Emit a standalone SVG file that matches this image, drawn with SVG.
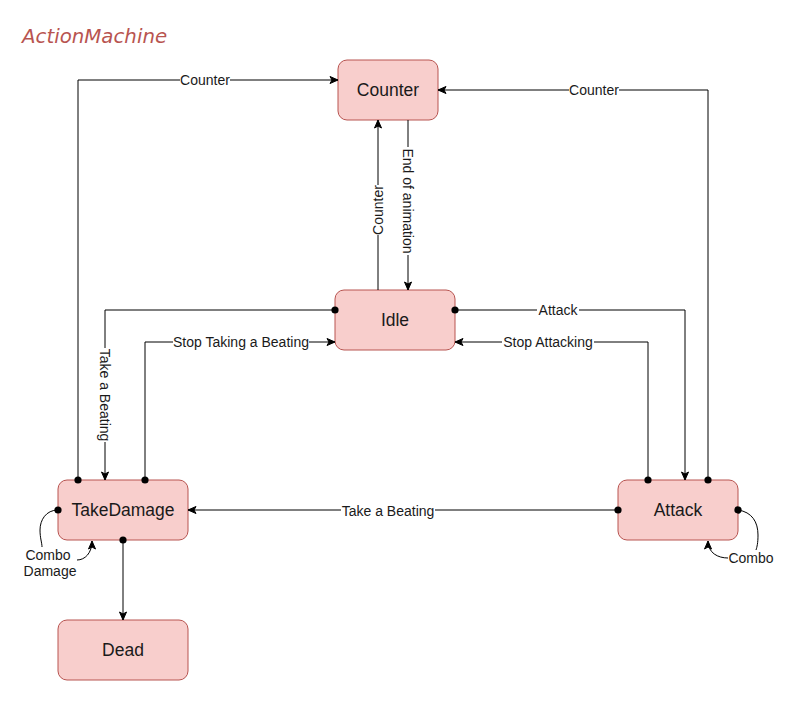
<svg xmlns="http://www.w3.org/2000/svg" width="795" height="701" viewBox="0 0 795 701">
<defs>
<marker id="arr" markerUnits="userSpaceOnUse" markerWidth="10" markerHeight="10" viewBox="0 0 10 10" refX="9" refY="5" orient="auto">
<path d="M1,1.5 L9,5 L1,8.5 L3,5 z" fill="#000" stroke="#000" stroke-width="1"/>
</marker>
<marker id="dot" markerUnits="userSpaceOnUse" markerWidth="8" markerHeight="8" viewBox="0 0 8 8" refX="4" refY="4" orient="auto">
<circle cx="4" cy="4" r="3.6" fill="#000"/>
</marker>
</defs>
<style>
.node rect{fill:#f8cecc;stroke:#b85450;stroke-width:1}
.node text{font-family:"Liberation Sans",Arial,sans-serif;font-size:17.5px;fill:#1a1a1a;text-anchor:middle;dominant-baseline:central}
.edge{fill:none;stroke:#000;stroke-width:1;marker-start:url(#dot);marker-end:url(#arr)}
.lbl{font-family:"Liberation Sans",Arial,sans-serif;font-size:14px;fill:#1a1a1a;text-anchor:middle;dominant-baseline:central}
.bg{fill:#fff}
</style>
<rect width="795" height="701" fill="#fff"/>
<text x="22" y="43" font-family="'DejaVu Sans',Verdana,sans-serif" font-style="italic" font-size="19.8" fill="#b85450">ActionMachine</text>
<g id="node-counter" class="node"><rect x="338" y="60" width="100" height="60" rx="9"/><text x="388" y="90">Counter</text></g>
<g id="node-idle" class="node"><rect x="335" y="290" width="120" height="60" rx="9"/><text x="395" y="320">Idle</text></g>
<g id="node-takedamage" class="node"><rect x="58" y="480" width="130" height="60" rx="9"/><text x="123" y="510">TakeDamage</text></g>
<g id="node-attack" class="node"><rect x="618" y="480" width="120" height="60" rx="9"/><text x="678" y="510">Attack</text></g>
<g id="node-dead" class="node"><rect x="58" y="620" width="130" height="60" rx="9"/><text x="123" y="650">Dead</text></g>
<g id="connectors">
<path class="edge" d="M78,480 V80 H338"/>
<path class="edge" d="M708,480 V90 H438"/>
<path class="edge" style="marker-start:none" d="M378,290 V120"/>
<path class="edge" style="marker-start:none" d="M408,120 V290"/>
<path class="edge" d="M335,310 H105 V480"/>
<path class="edge" d="M145,480 V342 H335"/>
<path class="edge" d="M455,310 H685 V480"/>
<path class="edge" d="M648,480 V342 H455"/>
<path class="edge" d="M618,510 H188"/>
<path class="edge" d="M123,540 V620"/>
<path class="edge" style="marker-end:none" d="M58,510 C46,510 40,520 40,530 C40,538 42,543 42,547"/>
<path class="edge" style="marker-start:none" d="M77,560 C85,560 92,553 92,541"/>
<path class="edge" style="marker-end:none" d="M738,510 C752,512 758,522 758,535 C758,543 757,547 756,550"/>
<path class="edge" style="marker-start:none" d="M728,558 C718,558 708,553 708,541"/>
<rect class="bg" x="180" y="72" width="50" height="16"/>
<text class="lbl" x="205" y="80">Counter</text>
<rect class="bg" x="569" y="82" width="50" height="16"/>
<text class="lbl" x="594" y="90">Counter</text>
<rect class="bg" x="370" y="185" width="16" height="50"/>
<text class="lbl" transform="translate(378,210) rotate(-90)">Counter</text>
<rect class="bg" x="400" y="147" width="16" height="108"/>
<text class="lbl" transform="translate(408,201) rotate(90)">End of animation</text>
<rect class="bg" x="97" y="348" width="16" height="94"/>
<text class="lbl" transform="translate(105,395) rotate(90)">Take a Beating</text>
<rect class="bg" x="173" y="334" width="136" height="16"/>
<text class="lbl" x="241" y="342">Stop Taking a Beating</text>
<rect class="bg" x="537" y="302" width="42" height="16"/>
<text class="lbl" x="558" y="310">Attack</text>
<rect class="bg" x="502" y="334" width="92" height="16"/>
<text class="lbl" x="548" y="342">Stop Attacking</text>
<rect class="bg" x="341" y="503" width="94" height="16"/>
<text class="lbl" x="388" y="511">Take a Beating</text>
<rect class="bg" x="23" y="547" width="53" height="32"/>
<text class="lbl" x="48" y="555">Combo</text>
<text class="lbl" x="50" y="571">Damage</text>
<rect class="bg" x="728" y="550" width="46" height="16"/>
<text class="lbl" x="751" y="558">Combo</text>
</g>
</svg>
